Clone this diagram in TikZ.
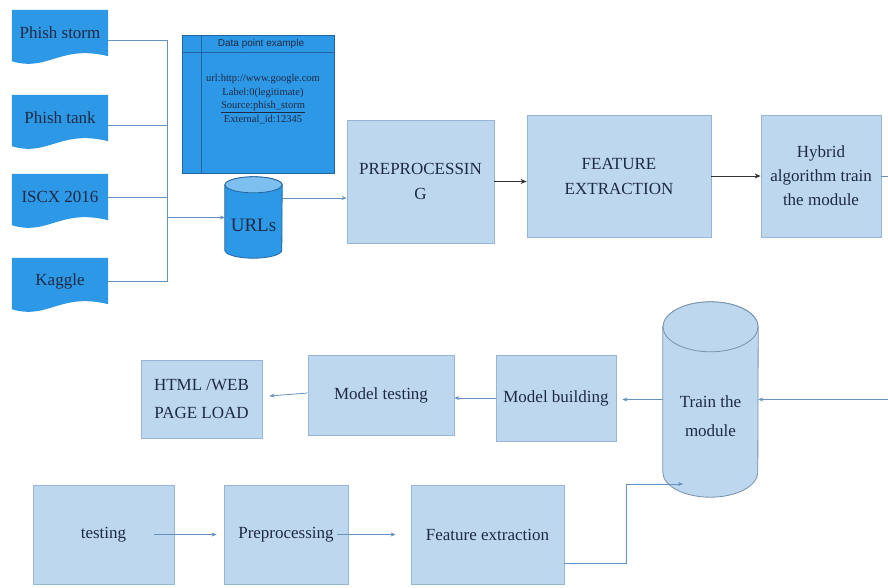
\documentclass[tikz,border=0pt]{standalone}
\usepackage{fontspec}
\setmainfont{Liberation Serif}
\newfontfamily\hdrfont{Liberation Sans}
\usetikzlibrary{arrows.meta,backgrounds,calc}
\definecolor{dblue}{RGB}{45,152,230}
\definecolor{dblueedge}{RGB}{35,100,160}
\definecolor{ltop}{RGB}{125,192,240}
\definecolor{lblue}{RGB}{189,215,238}
\definecolor{ledge}{RGB}{150,182,215}
\definecolor{conncol}{RGB}{100,145,190}
\definecolor{txtcol}{RGB}{30,42,68}
\definecolor{darkarrow}{RGB}{50,50,50}
\tikzset{
  lbox/.style={rectangle, draw=ledge, fill=lblue, line width=0.8pt, text=txtcol,
    font=\fontsize{17}{25}\selectfont, align=center, inner sep=2pt},
  docnode/.style={rectangle, text=txtcol, font=\fontsize{17}{20}\selectfont,
    minimum width=96pt, minimum height=46pt, inner sep=0pt},
  plain/.style={rectangle, inner sep=0pt},
  conn/.style={draw=conncol, line width=0.8pt},
  arr/.style={-{Stealth[length=5pt,width=4pt]}},
  darr/.style={draw=darkarrow, line width=1pt, -{Stealth[length=6pt,width=5pt]}},
}
\newcommand{\drawcyl}[6]{%
  \filldraw[fill=#4, draw=#5, line width=0.8pt]
    ($(#1.north west)+(0,#3)$) -- ($(#1.south west)+(0,-#3)$)
    arc[start angle=180, end angle=0, x radius=#2, y radius=#3]
    -- ($(#1.north east)+(0,#3)$)
    arc[start angle=0, end angle=-180, x radius=#2, y radius=#3] -- cycle;
  \filldraw[fill=#6, draw=#5, line width=0.8pt] ($(#1.north)+(0,#3)$) ellipse[x radius=#2, y radius=#3];
}
\newcommand{\drawdoc}[1]{%
  \fill[dblue] (#1.north west) -- (#1.north east) -- (#1.south east)
    .. controls ($(#1.south)+(0,-12)$) and ($(#1.south)+(-12,16)$) ..
    ($(#1.south west)+(0,5)$) -- cycle;
}
\begin{document}
\begin{tikzpicture}[x=1pt, y=-1pt]
\useasboundingbox (0,0) rectangle (888,587);

% source documents
\node[docnode] (ps) at (60,33) {Phish storm};
\node[docnode] (pt) at (60,118) {Phish tank};
\node[docnode] (is) at (60,197) {ISCX 2016};
\node[docnode] (kg) at (60,281) {Kaggle};

% data point example box
\node[rectangle, fill=dblue, draw=dblueedge, line width=0.8pt, minimum width=152pt, minimum height=138pt, inner sep=0pt] (dp) at (258,104) {};
\draw[dblueedge, line width=0.7pt] ($(dp.north west)+(0,18)$) -- ($(dp.north east)+(0,18)$);
\draw[dblueedge, line width=0.7pt] ($(dp.north west)+(20,0)$) -- ($(dp.south west)+(20,0)$);
\node[text=txtcol, font=\hdrfont\fontsize{10}{12}\selectfont, inner sep=0pt] (dph) at (261,44) {Data point example};
\node[text=txtcol, font=\fontsize{10.5}{13.7}\selectfont, align=center, inner sep=0pt] (dpb) at (263,99)
  {url:http://www.google.com\\Label:0(legitimate)\\\underline{Source:phish\_storm}\\External\_id:12345};

% URLs cylinder
\node[plain, minimum width=57pt, minimum height=81pt] (urls) at (253.5,217.5) {};
\node[text=txtcol, font=\fontsize{19}{22}\selectfont, inner sep=0pt] (urlst) at (253.5,225) {URLs};

% top row
\node[lbox, minimum width=147pt, minimum height=123pt] (pre) at (420.5,181.5) {PREPROCESSIN\\G};
\node[lbox, minimum width=184pt, minimum height=122pt] (feat) at (619,176) {FEATURE\\EXTRACTION};
\node[lbox, minimum width=120pt, minimum height=122pt, font=\fontsize{17}{24}\selectfont] (hyb) at (821,176) {Hybrid\\algorithm train\\the module};

% middle row
\node[lbox, minimum width=121pt, minimum height=78pt, font=\fontsize{17}{28}\selectfont] (html) at (201.5,399) {HTML /WEB\\PAGE LOAD};
\node[lbox, minimum width=146pt, minimum height=80pt] (mtest) at (381,395) {Model testing};
\node[lbox, minimum width=120pt, minimum height=86pt] (mbuild) at (556,398) {Model building};
\node[plain, minimum width=95pt, minimum height=195pt] (trn) at (710.5,399.5) {};
\node[text=txtcol, font=\fontsize{17}{29}\selectfont, align=center, inner sep=0pt] (trnt) at (710.5,416) {Train the\\module};

% bottom row
\node[lbox, minimum width=141pt, minimum height=99pt] (tst) at (103.5,534.5) {testing};
\node[lbox, minimum width=124pt, minimum height=99pt] (pp) at (286,534.5) {Preprocessing};
\node[lbox, minimum width=153pt, minimum height=99pt] (fe) at (487.5,534.5) {Feature extraction};

% background shapes
\begin{scope}[on background layer]
  \fill[white] (0,0) rectangle (888,587);
  \drawdoc{ps}
  \drawdoc{pt}
  \drawdoc{is}
  \drawdoc{kg}
  \drawcyl{urls}{28.5}{8}{dblue}{dblueedge}{ltop}
  \drawcyl{trn}{47.5}{25}{lblue}{ledge!80!black}{lblue}
\end{scope}

% connectors
\coordinate (tx) at (167,0);
\coordinate (redge1) at (888,176);
\coordinate (redge2) at (888,399.5);
\coordinate (bend) at (626,484);
\coordinate (tin) at (683,484);

\draw[conn] ([yshift=-7pt]ps.east) -- ([yshift=-7pt]ps.east -| tx) |- (kg.east);
\draw[conn] ([yshift=-7pt]pt.east) -- ([yshift=-7pt]pt.east -| tx);
\draw[conn] (is.east) -- (is.east -| tx);
\draw[conn, arr] (urls.west -| tx) -- (urls.west);
\draw[conn, arr] ([yshift=19.5pt]urls.east) -- ([yshift=19.5pt]urls.east -| pre.west);
\draw[darr] (pre.east) -- (pre.east -| feat.west);
\draw[darr] (feat.east) -- (hyb.west);
\draw[conn] (hyb.east) -- (redge1);

\draw[conn, arr] (redge2) -- (trn.east);
\draw[conn, arr] (trn.west) -- ([xshift=6pt]trn.west -| mbuild.east);
\draw[conn, arr] (mbuild.west) -- (mbuild.west -| mtest.east);
\draw[conn, arr] ([yshift=2pt]mtest.west) -- ([xshift=7pt,yshift=3pt]html.east);

\draw[conn, arr] ([xshift=-20pt]tst.east) -- ([xshift=-7pt]pp.west);
\draw[conn, arr] ([xshift=-11pt]pp.east) -- ([xshift=-15pt]fe.west);
\draw[conn, arr] ([yshift=-28.5pt]fe.east) -| (bend) -- (tin);
\end{tikzpicture}
\end{document}
